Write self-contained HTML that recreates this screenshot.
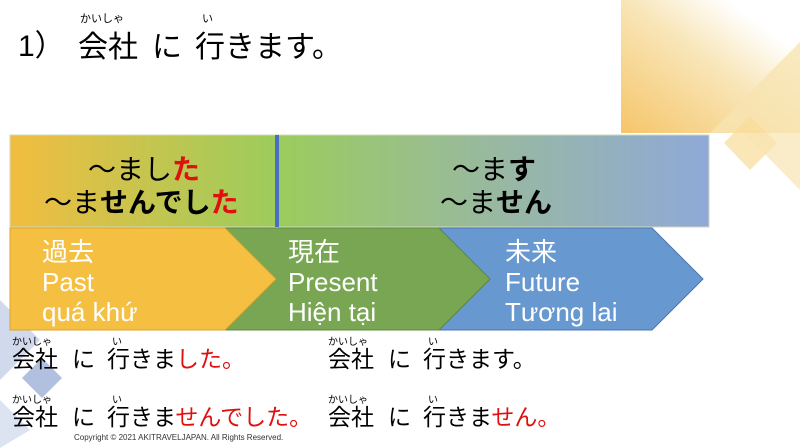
<!DOCTYPE html>
<html><head><meta charset="utf-8"><style>
body{margin:0;width:800px;height:448px;overflow:hidden;background:#fff;position:relative;font-family:"Liberation Sans","Noto Sans CJK JP",sans-serif}
.a{position:absolute;white-space:nowrap;line-height:1}
.r{color:#e01010}
.w{color:#fff;font-size:26px}
.ru{font-size:10px;color:#000}
.j{font-size:23px;color:#000}
</style></head><body>
<svg width="800" height="448" style="position:absolute;left:0;top:0">
<defs>
<linearGradient id="y" x1="0" y1="1" x2="1" y2="0"><stop offset="0" stop-color="#f6c56a"/><stop offset="0.5" stop-color="#f8e5b6"/><stop offset="0.8" stop-color="#fff"/></linearGradient>
<linearGradient id="band" x1="0" x2="1"><stop offset="0" stop-color="#f2bd40"/><stop offset="0.38" stop-color="#9ccc5c"/><stop offset="0.7" stop-color="#98b8a2"/><stop offset="1" stop-color="#8fa9d8"/></linearGradient>
</defs>
<rect x="621" y="0" width="179" height="133" fill="url(#y)"/>
<polygon points="800,42 710,133 800,133" fill="#f8e4b0" opacity="0.8"/>
<polygon points="724,143 750,170 777,143 750,116" fill="#f8dc98" opacity="0.7"/>
<polygon points="744,133 800,190 800,133" fill="#f8e4b0" opacity="0.7"/>
<polygon points="0,300 40,340 0,380" fill="#c5d0e8" opacity="0.8"/>
<polygon points="22,378 42,358 62,378 42,398" fill="#9fb0d8" opacity="0.8"/>
<polygon points="0,400 30,430 0,448" fill="#c5d0e8" opacity="0.6"/>
<rect x="10" y="135" width="699" height="92" fill="url(#band)" stroke="#cfd8c0" stroke-width="1"/>
<rect x="275" y="135" width="4" height="92" fill="#4a6fc0"/>
<polygon points="439,228 652,228 703,279 652,330 439,330 490,279" fill="#6798d0" stroke="#4c75b0" stroke-width="1"/>
<polygon points="225,228 439,228 490,279 439,330 225,330 276,279" fill="#78a652" stroke="#5f8a3e" stroke-width="1"/>
<polygon points="10,228 225,228 276,279 225,330 10,330" fill="#f5bf42" stroke="#d9a530" stroke-width="1"/>
</svg>

<div class="a" style="left:18px;top:32px;font-size:30px">1）</div>
<div class="a ru" style="left:80px;top:14px;font-size:11px">かいしゃ</div>
<div class="a ru" style="left:202px;top:14px;font-size:11px">い</div>
<div class="a" style="left:78px;top:33px;font-size:30px">会社</div>
<div class="a" style="left:152px;top:33px;font-size:30px">に</div>
<div class="a" style="left:195px;top:33px;font-size:30px">行きます。</div>

<div class="a" style="left:88px;top:156px;font-size:28px">～まし<b class="r">た</b></div>
<div class="a" style="left:44px;top:189px;font-size:28px">～ま<b>せんでし</b><b class="r">た</b></div>
<div class="a" style="left:452px;top:156px;font-size:28px">～ま<b>す</b></div>
<div class="a" style="left:440px;top:189px;font-size:28px">～ま<b>せん</b></div>

<div class="a w" style="left:42px;top:239px">過去</div>
<div class="a w" style="left:42px;top:269px">Past</div>
<div class="a w" style="left:42px;top:299px">quá khứ</div>
<div class="a w" style="left:288px;top:239px">現在</div>
<div class="a w" style="left:288px;top:269px">Present</div>
<div class="a w" style="left:288px;top:299px">Hiện tại</div>
<div class="a w" style="left:505px;top:239px">未来</div>
<div class="a w" style="left:505px;top:269px">Future</div>
<div class="a w" style="left:505px;top:299px">Tương lai</div>

<div class="a ru" style="left:12px;top:338px">かいしゃ</div>
<div class="a ru" style="left:112px;top:338px">い</div>
<div class="a j" style="left:12px;top:348px">会社</div>
<div class="a j" style="left:72px;top:348px">に</div>
<div class="a j" style="left:107px;top:348px">行きま<span class="r">した。</span></div>

<div class="a ru" style="left:12px;top:396px">かいしゃ</div>
<div class="a ru" style="left:112px;top:396px">い</div>
<div class="a j" style="left:12px;top:406px">会社</div>
<div class="a j" style="left:72px;top:406px">に</div>
<div class="a j" style="left:107px;top:406px">行きま<span class="r">せんでした。</span></div>

<div class="a ru" style="left:328px;top:338px">かいしゃ</div>
<div class="a ru" style="left:428px;top:338px">い</div>
<div class="a j" style="left:328px;top:348px">会社</div>
<div class="a j" style="left:388px;top:348px">に</div>
<div class="a j" style="left:423px;top:348px">行きます。</div>

<div class="a ru" style="left:328px;top:396px">かいしゃ</div>
<div class="a ru" style="left:428px;top:396px">い</div>
<div class="a j" style="left:328px;top:406px">会社</div>
<div class="a j" style="left:388px;top:406px">に</div>
<div class="a j" style="left:423px;top:406px">行きま<span class="r">せん。</span></div>

<div class="a" style="left:74px;top:434px;font-size:8px;color:#333">Copyright © 2021 AKITRAVELJAPAN. All Rights Reserved.</div>
</body></html>
